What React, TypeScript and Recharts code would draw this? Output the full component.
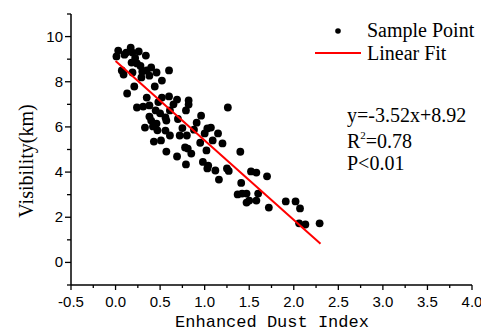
import React from 'react';
import { ScatterChart, Scatter, XAxis, YAxis, Label } from 'recharts';

// enhanced dust index of each sample
const ediValues = [
  0.01, 0.03, 0.12, 0.17, 0.19, 0.26, 0.34, 0.07, 0.09, 0.18, 0.24, 0.19, 0.29, 0.35, 0.4, 0.38, 0.46, 0.6,
  0.21, 0.13, 0.44, 0.52, 0.35, 0.24, 0.31, 0.38, 0.52, 0.6, 0.69, 0.82, 0.82, 0.61, 0.45, 0.38, 0.4, 0.46,
  0.33, 0.42, 0.56, 0.57, 0.79, 0.96, 0.91, 1.03, 1.07, 1.0, 1.15, 1.26, 1.09, 1.2, 0.56, 0.61, 0.72, 0.8,
  0.88, 0.43, 0.51, 0.57, 0.69, 0.78, 0.81, 0.85, 0.79, 1.02, 0.98, 1.04, 1.03, 1.12, 1.16, 1.25, 1.27, 1.4,
  1.37, 1.41, 1.42, 1.47, 1.47, 1.5, 1.52, 1.58, 1.6, 1.58, 1.7, 1.72, 1.91, 2.02, 2.07, 2.06, 2.13, 2.29,
  0.1, 0.28, 0.22, 0.3, 0.48, 0.65, 0.5, 0.7, 0.75, 0.95, 0.47,
];

// visibility (km) of each sample
const visibilityValues = [
  9.12, 9.38, 9.29, 9.51, 9.29, 9.34, 9.16, 8.5, 8.32, 8.85, 8.81, 8.41, 8.19, 8.5, 8.63, 8.27, 8.41, 8.5,
  7.79, 7.48, 7.79, 8.05, 7.3, 6.86, 6.9, 6.95, 7.3, 7.35, 7.21, 7.17, 6.99, 6.73, 6.73, 6.46, 6.28, 6.15,
  5.97, 6.02, 6.42, 6.28, 6.73, 6.5, 6.19, 5.93, 5.97, 5.71, 5.71, 6.86, 5.4, 5.27, 5.84, 5.62, 5.62, 5.62,
  5.88, 5.35, 5.4, 4.91, 4.69, 5.09, 5.04, 4.82, 4.34, 4.96, 4.45, 4.29, 4.16, 4.07, 3.67, 4.16, 4.05, 4.9,
  3.01, 3.52, 3.05, 3.05, 2.65, 2.74, 4.03, 3.98, 3.05, 2.74, 3.81, 2.43, 2.7, 2.7, 2.39, 1.73, 1.68, 1.73,
  9.2, 8.7, 9.05, 8.45, 7.1, 7.0, 6.6, 6.35, 5.95, 5.3, 5.85,
];

const fitSlope = -3.52;
const fitIntercept = 8.92;
const fitRange = [0, 2.3];

const xTicks = [-0.5, -0.25, 0, 0.25, 0.5, 0.75, 1, 1.25, 1.5, 1.75, 2, 2.25, 2.5, 2.75, 3, 3.25, 3.5, 3.75, 4];
const yTicks = [-1, 0, 1, 2, 3, 4, 5, 6, 7, 8, 9, 10, 11];

const samples = ediValues.map((x, i) => ({ x, y: visibilityValues[i] }));
const fitData = fitRange.map((x) => ({ x, y: fitSlope * x + fitIntercept }));

const sans = '"Liberation Sans", Arial, sans-serif';
const serif = '"Liberation Serif", "Times New Roman", serif';

function XTick(props: any) {
  const { x, y, payload } = props;
  const v = payload.value as number;
  const major = Math.abs(v * 2 - Math.round(v * 2)) < 1e-6;
  return (
    <g>
      <line x1={x} x2={x} y1={y} y2={y + (major ? 5 : 3)} stroke="#000" strokeWidth={1.3} />
      {major && (
        <text x={x} y={y + 22} textAnchor="middle" fontSize={15} fontFamily={sans} fill="#000">
          {v.toFixed(1)}
        </text>
      )}
    </g>
  );
}

function YTick(props: any) {
  const { x, y, payload } = props;
  const v = payload.value as number;
  const major = v % 2 === 0;
  return (
    <g>
      <line x1={x - (major ? 6 : 4)} x2={x} y1={y} y2={y} stroke="#000" strokeWidth={1.3} />
      {major && (
        <text x={x - 8} y={y + 5} textAnchor="end" fontSize={15} fontFamily={sans} fill="#000">
          {v}
        </text>
      )}
    </g>
  );
}

function SampleDot(props: any) {
  return <circle cx={props.cx} cy={props.cy} r={3.9} fill="#000" />;
}

export default function App() {
  return (
    <div style={{ position: 'absolute', left: 0, top: 0, width: 481, height: 331, background: '#fff' }}>
      <ScatterChart width={481} height={331} margin={{ top: 14, right: 9, bottom: 0, left: 0 }}>
        <XAxis
          type="number"
          dataKey="x"
          domain={[-0.5, 4]}
          ticks={xTicks}
          interval={0}
          tickSize={0}
          tickMargin={0}
          tickLine={false}
          tick={<XTick />}
          axisLine={{ stroke: '#000', strokeWidth: 1.5 }}
          height={46}
          allowDataOverflow
        >
          <Label
            content={() => (
              <text x={272} y={327} textAnchor="middle" fontSize={17} fontFamily='"Liberation Mono", monospace' fill="#000">
                Enhanced Dust Index
              </text>
            )}
          />
        </XAxis>
        <YAxis
          type="number"
          dataKey="y"
          domain={[-1, 11]}
          ticks={yTicks}
          interval={0}
          tickSize={0}
          tickMargin={0}
          tickLine={false}
          tick={<YTick />}
          axisLine={{ stroke: '#000', strokeWidth: 1.5 }}
          width={71}
          allowDataOverflow
        >
          <Label
            content={() => (
              <text
                x={0}
                y={0}
                transform="translate(33,161) rotate(-90)"
                textAnchor="middle"
                fontSize={20}
                fontFamily={serif}
                fill="#000"
              >
                Visibility(km)
              </text>
            )}
          />
        </YAxis>
        <Scatter data={samples} shape={<SampleDot />} isAnimationActive={false} />
        <Scatter
          data={fitData}
          line={{ stroke: '#ff0000', strokeWidth: 2 }}
          shape={() => <g />}
          isAnimationActive={false}
        />
      </ScatterChart>
      <svg width={481} height={331} style={{ position: 'absolute', left: 0, top: 0, pointerEvents: 'none' }}>
        <circle cx={338} cy={31} r={2.8} fill="#000" />
        <text x={367} y={37} fontSize={20} fontFamily={serif} fill="#000">Sample Point</text>
        <line x1={315} x2={361} y1={53} y2={53} stroke="#ff0000" strokeWidth={2} />
        <text x={367} y={60} fontSize={20} fontFamily={serif} fill="#000">Linear Fit</text>
        <text x={347} y={122} fontSize={20} fontFamily={serif} fill="#000">y=-3.52x+8.92</text>
        <text x={347} y={148} fontSize={20} fontFamily={serif} fill="#000">
          R<tspan fontSize={11} dy={-9}>2</tspan>
          <tspan dy={9}>=0.78</tspan>
        </text>
        <text x={347} y={170} fontSize={20} fontFamily={serif} fill="#000">P&lt;0.01</text>
      </svg>
    </div>
  );
}
